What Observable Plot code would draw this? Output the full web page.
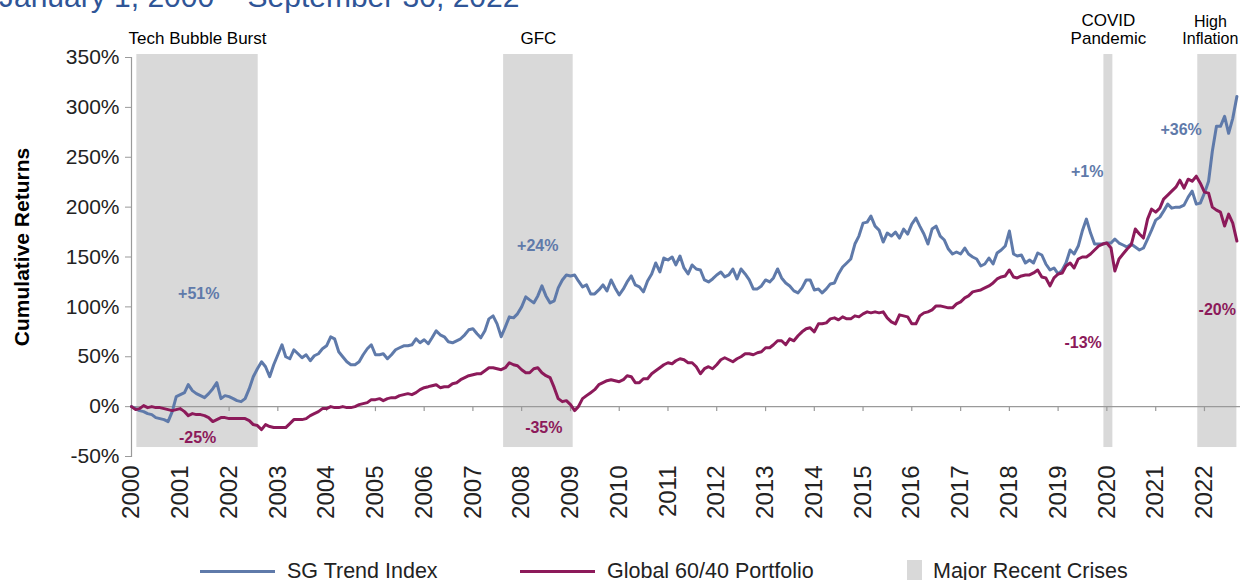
<!DOCTYPE html>
<html>
<head>
<meta charset="utf-8">
<script src="https://cdn.jsdelivr.net/npm/d3@7"></script>
<script src="https://cdn.jsdelivr.net/npm/@observablehq/plot@0.6"></script>
<style>
  html, body { margin: 0; padding: 0; background: #fff; }
  body { font-family: "Liberation Sans", Arial, sans-serif; overflow: hidden; }
  #wrap { position: relative; width: 1245px; height: 580px; overflow: hidden; }
  #title { position: absolute; left: -1px; top: -18px; font-size: 30px; line-height: 30px; color: #2F5597; white-space: nowrap; }
  #ylabel { position: absolute; left: 22px; top: 247px; transform: translate(-50%, -50%) rotate(-90deg); font-size: 21px; font-weight: bold; color: #000; white-space: nowrap; }
  .leg { position: absolute; font-size: 21.5px; line-height: 24px; color: #222; white-space: nowrap; }
  .legline { position: absolute; height: 3px; }
  .legbox { position: absolute; width: 15px; height: 22px; background: #D9D9D9; }
  #chart { position: absolute; left: 0; top: 0; }
</style>
</head>
<body>
<div id="wrap">
  <div id="chart"></div>
  <div id="title">January 1, 2000 – September 30, 2022</div>
  <div id="ylabel">Cumulative Returns</div>
  <div class="legline" style="left:200px; top:570px; width:75px; background:#5F7AAA"></div>
  <div class="leg" style="left:287px; top:559px">SG Trend Index</div>
  <div class="legline" style="left:520px; top:570px; width:75px; background:#8C1A5A"></div>
  <div class="leg" style="left:607px; top:559px">Global 60/40 Portfolio</div>
  <div class="legbox" style="left:907px; top:560px"></div>
  <div class="leg" style="left:933px; top:559px">Major Recent Crises</div>
</div>
<script>
// Monthly cumulative returns (%), Jan 2000 .. Sep 2022
const sgTrend = [
  0,-2,-4,-5,-7,-8,-11,-12,-13,-15,-5,10,
  12,14,22,16,13,11,9,13,18,24,8,11,
  10,8,6,5,8,18,30,38,45,40,30,42,
  52,62,50,48,57,53,49,52,46,51,53,58,
  61,70,68,55,50,45,42,42,45,52,58,62,
  52,52,53,48,52,57,59,61,61,62,68,64,
  67,63,69,76,72,70,65,64,66,68,72,77,
  78,73,69,76,88,91,83,70,80,90,89,93,
  100,110,107,104,111,121,111,104,106,119,127,132,
  131,132,126,120,122,113,113,117,122,116,127,119,
  112,118,125,131,122,120,115,126,133,144,135,149,
  147,150,142,151,139,133,142,138,137,127,125,128,
  132,135,130,132,138,128,138,133,127,118,118,121,
  127,125,129,138,129,124,121,116,114,119,127,127,
  117,118,114,118,123,124,133,140,144,148,163,171,
  184,185,191,181,177,165,174,171,175,169,178,173,
  183,189,181,173,163,178,181,171,167,158,153,155,
  153,159,153,150,148,141,143,149,143,154,157,161,
  176,153,151,152,144,147,144,154,152,143,137,139,
  133,137,144,157,153,161,176,188,174,163,163,163,
  164,164,168,164,162,160,163,160,157,159,168,177,
  187,190,196,203,199,200,200,202,210,216,203,204,
  214,226,256,281,281,291,274,289,311
];
const global6040 = [
  0,-3,-2,1,-1,0,-1,-1,-2,-3,-4,-3,
  -2,-5,-9,-7,-8,-8,-9,-11,-15,-13,-11,-11,
  -12,-12,-12,-12,-12,-14,-18,-19,-23,-18,-20,-21,
  -21,-21,-21,-17,-13,-13,-13,-12,-9,-7,-5,-2,
  -2,0,-1,-1,0,-1,-1,0,2,3,4,7,
  7,8,6,8,9,9,11,12,13,12,14,17,
  19,20,21,22,19,20,20,23,24,27,29,31,
  32,33,33,36,39,39,38,37,39,44,42,41,
  37,34,34,38,39,34,31,29,19,8,5,6,
  2,-4,0,8,11,14,17,22,24,26,27,26,
  25,27,31,30,24,24,28,28,33,36,39,42,
  44,43,46,48,47,44,44,40,33,38,40,38,
  42,47,49,47,45,48,50,53,53,52,54,55,
  59,59,62,66,66,62,68,66,71,75,78,79,
  75,83,83,84,88,89,87,90,88,88,91,90,
  93,95,94,95,94,95,89,85,83,92,91,90,
  83,83,91,94,95,97,101,101,100,99,99,103,
  105,109,111,115,116,117,119,121,124,128,130,131,
  137,130,129,131,132,132,134,137,130,129,121,129,
  133,134,141,144,139,148,150,150,153,157,161,163,
  164,159,136,148,153,158,162,178,173,169,188,198,
  195,199,208,212,216,220,227,219,228,226,231,224,
  215,214,200,197,195,181,193,184,166
];
const seriesNames = ["SG Trend Index", "Global 60/40 Portfolio"];
const seriesColors = ["#5F7AAA", "#8C1A5A"];

// Crisis periods
const crisisNames = ["Tech Bubble Burst", "GFC", "COVID\nPandemic", "High\nInflation"];
const crisisStart = ["2000-02-10", "2007-08-19", "2019-12-10", "2021-11-12"];
const crisisEnd   = ["2002-08-07", "2009-01-21", "2020-02-15", "2022-09-01"];

// Drawdown / gain annotations during crises
const annoText   = ["+51%", "-25%", "+24%", "-35%", "+1%", "-13%", "+36%", "-20%"];
const annoDate   = ["2001-05-19", "2001-05-10", "2008-05-01", "2008-06-15", "2019-08-07", "2019-07-07", "2021-07-10", "2022-04-07"];
const annoValue  = [113, -31, 161, -21, 235, 64, 277, 97];
const annoSeries = [0, 1, 0, 1, 0, 1, 0, 1];

const yTicks = [-50, 0, 50, 100, 150, 200, 250, 300, 350];
const yearTicks = d3.range(2000, 2023).map(y => new Date(Date.UTC(y, 0, 1)));

const rows = [];
sgTrend.forEach((v, i) => rows.push({date: new Date(Date.UTC(2000, i, 1)), value: v, s: 0}));
global6040.forEach((v, i) => rows.push({date: new Date(Date.UTC(2000, i, 1)), value: v, s: 1}));

const crises = crisisNames.map((n, i) => ({
  name: n, start: new Date(crisisStart[i]), end: new Date(crisisEnd[i]),
  mid: new Date((new Date(crisisStart[i]).getTime() + new Date(crisisEnd[i]).getTime()) / 2)
}));
const annos = annoText.map((t, i) => ({text: t, date: new Date(annoDate[i]), value: annoValue[i], s: annoSeries[i]}));

const labelStyle = {x: "mid", y: 364, text: "name", lineAnchor: "bottom", fontSize: 17, fill: "#000", lineHeight: 1.06};

const chart = Plot.plot({
  width: 1245,
  height: 580,
  marginLeft: 131,
  marginRight: 5,
  marginTop: 57,
  marginBottom: 124,
  style: {fontFamily: "'Liberation Sans', Arial, sans-serif", fontSize: "21px", color: "#222", background: "transparent", overflow: "visible"},
  x: {type: "utc", domain: [new Date(Date.UTC(2000, 0, 1)), new Date(Date.UTC(2022, 8, 28))]},
  y: {domain: [-50, 350]},
  color: {domain: [0, 1], range: seriesColors},
  marks: [
    Plot.rect(crises, {x1: "start", x2: "end", y1: -41, y2: 353, fill: "#D9D9D9"}),
    Plot.ruleY([0], {stroke: "#9a9a9a", strokeWidth: 1.2}),
    Plot.ruleX(yearTicks, {x: d => d, y1: 0, y2: -5, stroke: "#9a9a9a", strokeWidth: 1.2}),
    Plot.frame({anchor: "left", stroke: "#9a9a9a", strokeWidth: 1.2}),
    Plot.axisY({ticks: yTicks, tickFormat: d => d + "%", tickSize: 6, tickPadding: 6, label: null, stroke: "#9a9a9a", fontSize: 21}),
    Plot.axisX({ticks: yearTicks, tickFormat: d3.utcFormat("%Y"), tickRotate: -90, tickSize: 0, tickPadding: 9, label: null, anchor: "bottom", fontSize: 24}),
    Plot.line(rows, {x: "date", y: "value", z: "s", stroke: d => d.s, strokeWidth: 3, strokeLinejoin: "round"}),
    Plot.text(crises.slice(0, 3), labelStyle),
    Plot.text(crises.slice(3), {...labelStyle, fontSize: 16, dx: -7}),
    Plot.text(annos, {x: "date", y: "value", text: "text", fill: d => seriesColors[d.s], fontWeight: "bold", fontSize: 16})
  ]
});
document.getElementById("chart").appendChild(chart);
</script>
</body>
</html>
